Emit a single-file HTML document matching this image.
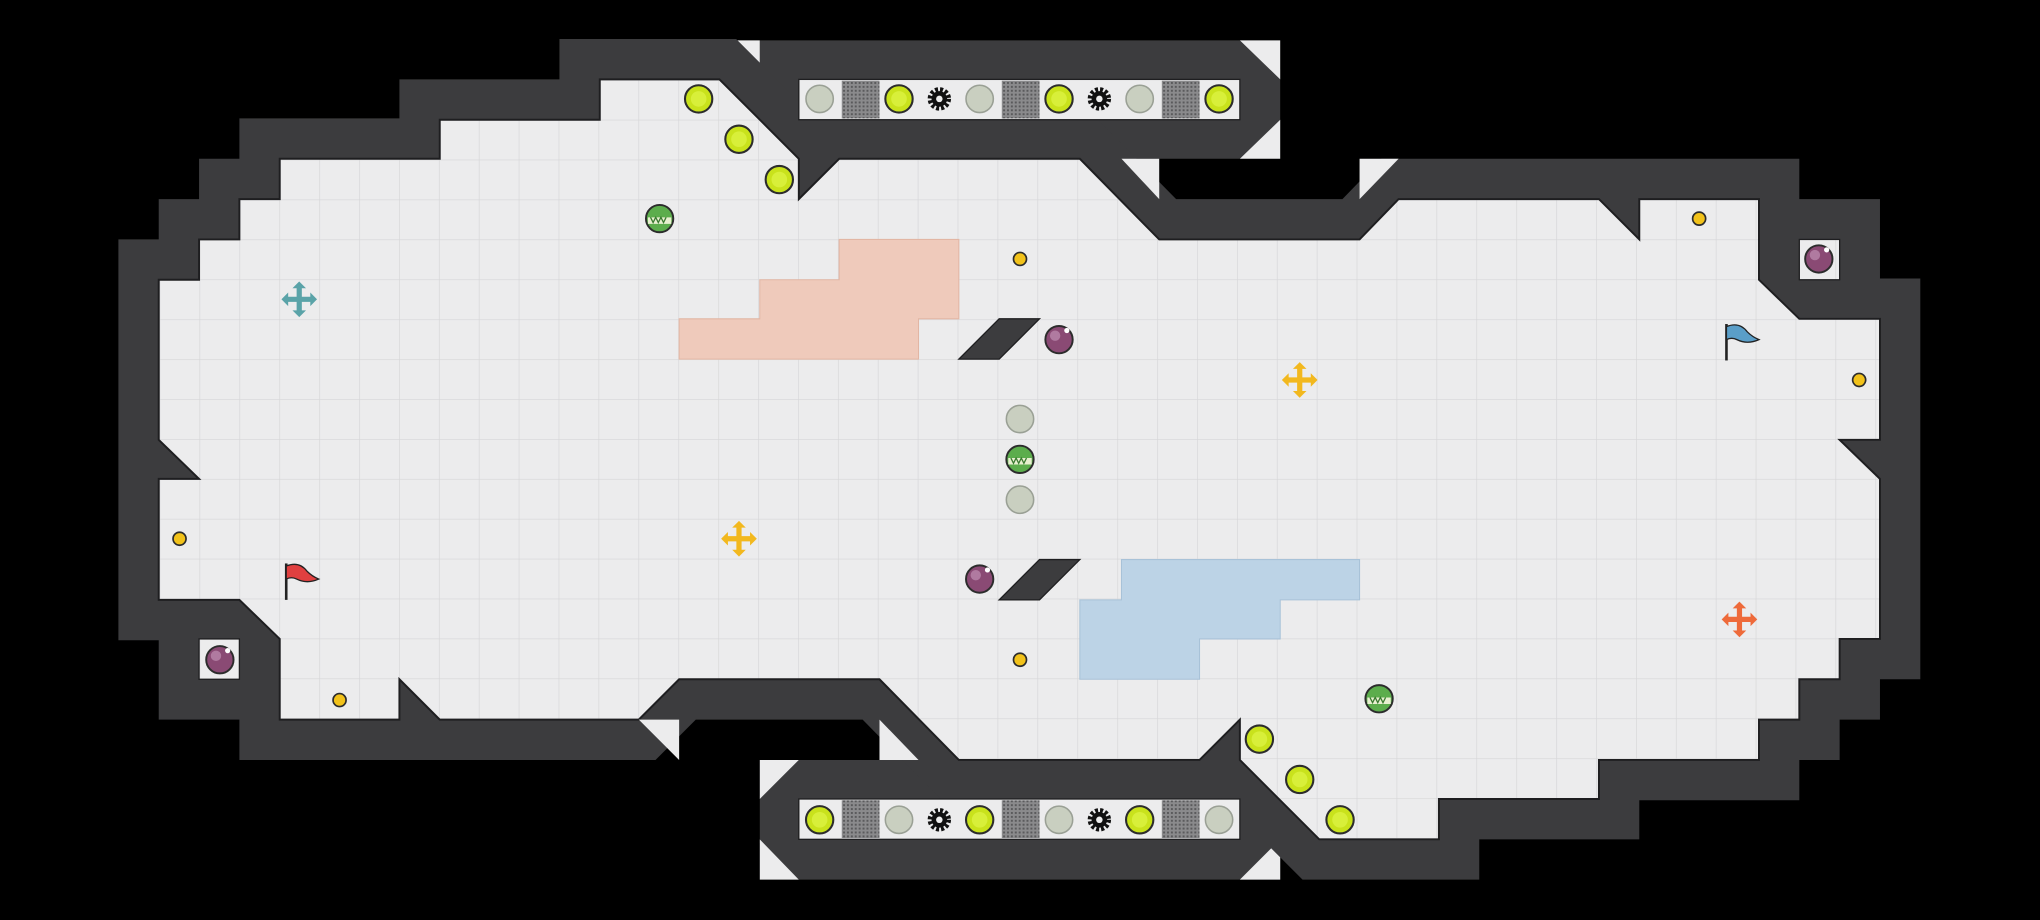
<!DOCTYPE html>
<html><head><meta charset="utf-8"><style>html,body{margin:0;padding:0;background:#000}svg{display:block}</style></head>
<body>
<svg width="2040" height="920" viewBox="0 0 1568 707" preserveAspectRatio="none" xmlns="http://www.w3.org/2000/svg">
<defs>
<pattern id="g" x="0" y="0" width="30.67" height="30.67" patternUnits="userSpaceOnUse">
<rect width="30.67" height="30.67" fill="#ececed"/>
<path d="M0 0H30.67M0 0V30.67" stroke="#d6d6d8" stroke-width="1" fill="none"/>
</pattern>
<pattern id="m" width="3" height="3" patternUnits="userSpaceOnUse"><rect width="3" height="3" fill="#8a8a8c"/><rect width="1.5" height="1.5" fill="#5a5a5c"/></pattern>
<g id="y"><circle r="10.5" fill="#c9e21c" stroke="#2c2c2c" stroke-width="1.6"/><circle r="6" fill="#d8ef3a"/></g>
<g id="gr"><circle r="10.5" fill="#c9cfc0" stroke="#9aa095" stroke-width="1.2"/></g>
<g id="d"><circle r="5" fill="#f2c21a" stroke="#2c2c2c" stroke-width="1.3"/></g>
<g id="p"><circle r="10.5" fill="#8a4a74" stroke="#2c2c2c" stroke-width="1.5"/><circle cx="-3" cy="-3" r="4" fill="#b07aa0"/><circle cx="6" cy="-7" r="2" fill="#fff"/></g>
<g id="s"><circle r="10.5" fill="#5cad4c" stroke="#2c2c2c" stroke-width="1.5"/><path d="M-9 -1H9V4H-9Z" fill="#e8f0d0"/><path d="M-7 -1l2 4 2-4 2 4 2-4 2 4 2-4" stroke="#3a7a30" fill="none" stroke-width="1"/></g>
<g id="gear"><circle r="7" fill="none" stroke="#111" stroke-width="4" stroke-dasharray="2.2 1.5"/><circle r="6" fill="#111"/><circle r="2.5" fill="#eee"/></g>
<g id="x"><path d="M0 -11V11M-11 0H11" stroke-width="4" fill="none"/><path d="M0 -13l-4 4h8zM0 13l-4 -4h8zM-13 0l4 -4v8zM13 0l-4 -4v8z"/></g>
</defs>
<rect width="1568" height="707" fill="#000"/>
<!-- top box -->
<polygon points="584,31 953,31 984,61 984,92 953,122 645,122 614,122 584,92" fill="#3c3c3e"/>
<polygon points="553,31 584,31 584,61" fill="#ececed"/>
<polygon points="953,31 984,31 984,61" fill="#ececed"/>
<polygon points="984,92 984,122 953,122" fill="#ececed"/>
<!-- bottom box -->
<polygon points="614,584 953,584 984,614 984,676 614,676 584,645 584,614" fill="#3c3c3e"/>
<polygon points="584,584 614,584 584,614" fill="#ececed"/>
<polygon points="584,645 614,676 584,676" fill="#ececed"/>
<polygon points="984,645 984,676 953,676" fill="#ececed"/>
<!-- main -->
<rect x="122" y="461" width="93" height="92" fill="#3c3c3e"/>
<rect x="1352" y="153" width="93" height="92" fill="#3c3c3e"/>
<polygon points="461,61 553,61 614,122 614,153 645,122 830,122 891,184 1045,184 1075,153 1229,153 1260,184 1260,153 1352,153 1352,215 1383,245 1445,245 1445,338 1414,338 1445,368 1445,491 1414,491 1414,522 1383,522 1383,553 1352,553 1352,584 1229,584 1229,614 1106,614 1106,645 1014,645 953,584 953,553 922,584 737,584 676,522 522,522 491,553 338,553 307,522 307,553 215,553 215,491 184,461 122,461 122,368 153,368 122,338 122,215 153,215 153,184 184,184 184,153 215,153 215,122 338,122 338,92 461,92" fill="#3c3c3e" stroke="#3c3c3e" stroke-width="62" stroke-linejoin="miter" stroke-miterlimit="3"/>
<polygon points="461,61 553,61 614,122 614,153 645,122 830,122 891,184 1045,184 1075,153 1229,153 1260,184 1260,153 1352,153 1352,215 1383,245 1445,245 1445,338 1414,338 1445,368 1445,491 1414,491 1414,522 1383,522 1383,553 1352,553 1352,584 1229,584 1229,614 1106,614 1106,645 1014,645 953,584 953,553 922,584 737,584 676,522 522,522 491,553 338,553 307,522 307,553 215,553 215,491 184,461 122,461 122,368 153,368 122,338 122,215 153,215 153,184 184,184 184,153 215,153 215,122 338,122 338,92 461,92" fill="url(#g)" stroke="#1e1e20" stroke-width="1.5"/>
<!-- corner light triangles -->
<polygon points="862,122 891,122 891,153" fill="#ececed"/>
<polygon points="1045,122 1075,122 1045,153" fill="#ececed"/>
<polygon points="491,553 522,553 522,584" fill="#ececed"/>
<polygon points="676,553 706,584 676,584" fill="#ececed"/>
<!-- small alcoves -->
<rect x="153" y="491" width="31" height="31" fill="url(#g)" stroke="#1e1e20"/>
<rect x="1383" y="184" width="31" height="31" fill="url(#g)" stroke="#1e1e20"/>
<!-- regions -->
<g fill="#efcabb" stroke="#e2b6a4" stroke-width="0.8">
<path d="M645 184H737V245H706V276H522V245H584V215H645Z"/>
</g>
<g fill="#bcd3e6" stroke="#a8c2d8" stroke-width="0.8">
<path d="M862 430H1045V461H984V491H922V522H830V461H862Z"/>
</g>
<!-- diagonal blocks -->
<polygon points="768,245 799,245 768,276 737,276" fill="#3c3c3e" stroke="#1e1e20"/>
<polygon points="799,430 830,430 799,461 768,461" fill="#3c3c3e" stroke="#1e1e20"/>
<!-- box interiors -->
<rect x="614" y="61" width="339" height="31" fill="#ececed" stroke="#1e1e20"/>
<rect x="614" y="614" width="339" height="31" fill="#ececed" stroke="#1e1e20"/>
<g>
<use href="#gr" x="630" y="76"/><rect x="647" y="62" width="29" height="29" fill="url(#m)"/><use href="#y" x="691" y="76"/><use href="#gear" x="722" y="76"/><use href="#gr" x="753" y="76"/><rect x="770" y="62" width="29" height="29" fill="url(#m)"/><use href="#y" x="814" y="76"/><use href="#gear" x="845" y="76"/><use href="#gr" x="876" y="76"/><rect x="893" y="62" width="29" height="29" fill="url(#m)"/><use href="#y" x="937" y="76"/>
<use href="#y" x="630" y="630"/><rect x="647" y="615" width="29" height="29" fill="url(#m)"/><use href="#gr" x="691" y="630"/><use href="#gear" x="722" y="630"/><use href="#y" x="753" y="630"/><rect x="770" y="615" width="29" height="29" fill="url(#m)"/><use href="#gr" x="814" y="630"/><use href="#gear" x="845" y="630"/><use href="#y" x="876" y="630"/><rect x="893" y="615" width="29" height="29" fill="url(#m)"/><use href="#gr" x="937" y="630"/>
</g>
<!-- items -->
<use href="#y" x="537" y="76"/><use href="#y" x="568" y="107"/><use href="#y" x="599" y="138"/>
<use href="#y" x="968" y="568"/><use href="#y" x="999" y="599"/><use href="#y" x="1030" y="630"/>
<use href="#d" x="784" y="199"/><use href="#d" x="1306" y="168"/><use href="#d" x="1429" y="292"/><use href="#d" x="138" y="414"/><use href="#d" x="261" y="538"/><use href="#d" x="784" y="507"/>
<use href="#p" x="814" y="261"/><use href="#p" x="753" y="445"/><use href="#p" x="169" y="507"/><use href="#p" x="1398" y="199"/>
<use href="#s" x="507" y="168"/><use href="#s" x="784" y="353"/><use href="#s" x="1060" y="537"/>
<use href="#gr" x="784" y="322"/><use href="#gr" x="784" y="384"/>
<use href="#x" x="230" y="230" fill="#5aa3a8" stroke="#5aa3a8"/>
<use href="#x" x="999" y="292" fill="#f2b81e" stroke="#f2b81e"/>
<use href="#x" x="568" y="414" fill="#f2b81e" stroke="#f2b81e"/>
<use href="#x" x="1337" y="476" fill="#ee6a3a" stroke="#ee6a3a"/>
<!-- flags -->
<g transform="translate(218,433)"><path d="M2 0V28" stroke="#222" stroke-width="2"/><path d="M2 2Q12 -2 18 6Q22 10 27 12Q18 16 10 12Q6 10 2 12Z" fill="#e04040" stroke="#222" stroke-width="1"/></g>
<g transform="translate(1325,249)"><path d="M2 0V28" stroke="#222" stroke-width="2"/><path d="M2 2Q12 -2 18 6Q22 10 27 12Q18 16 10 12Q6 10 2 12Z" fill="#5a9ec8" stroke="#222" stroke-width="1"/></g>
</svg>
</body></html>
